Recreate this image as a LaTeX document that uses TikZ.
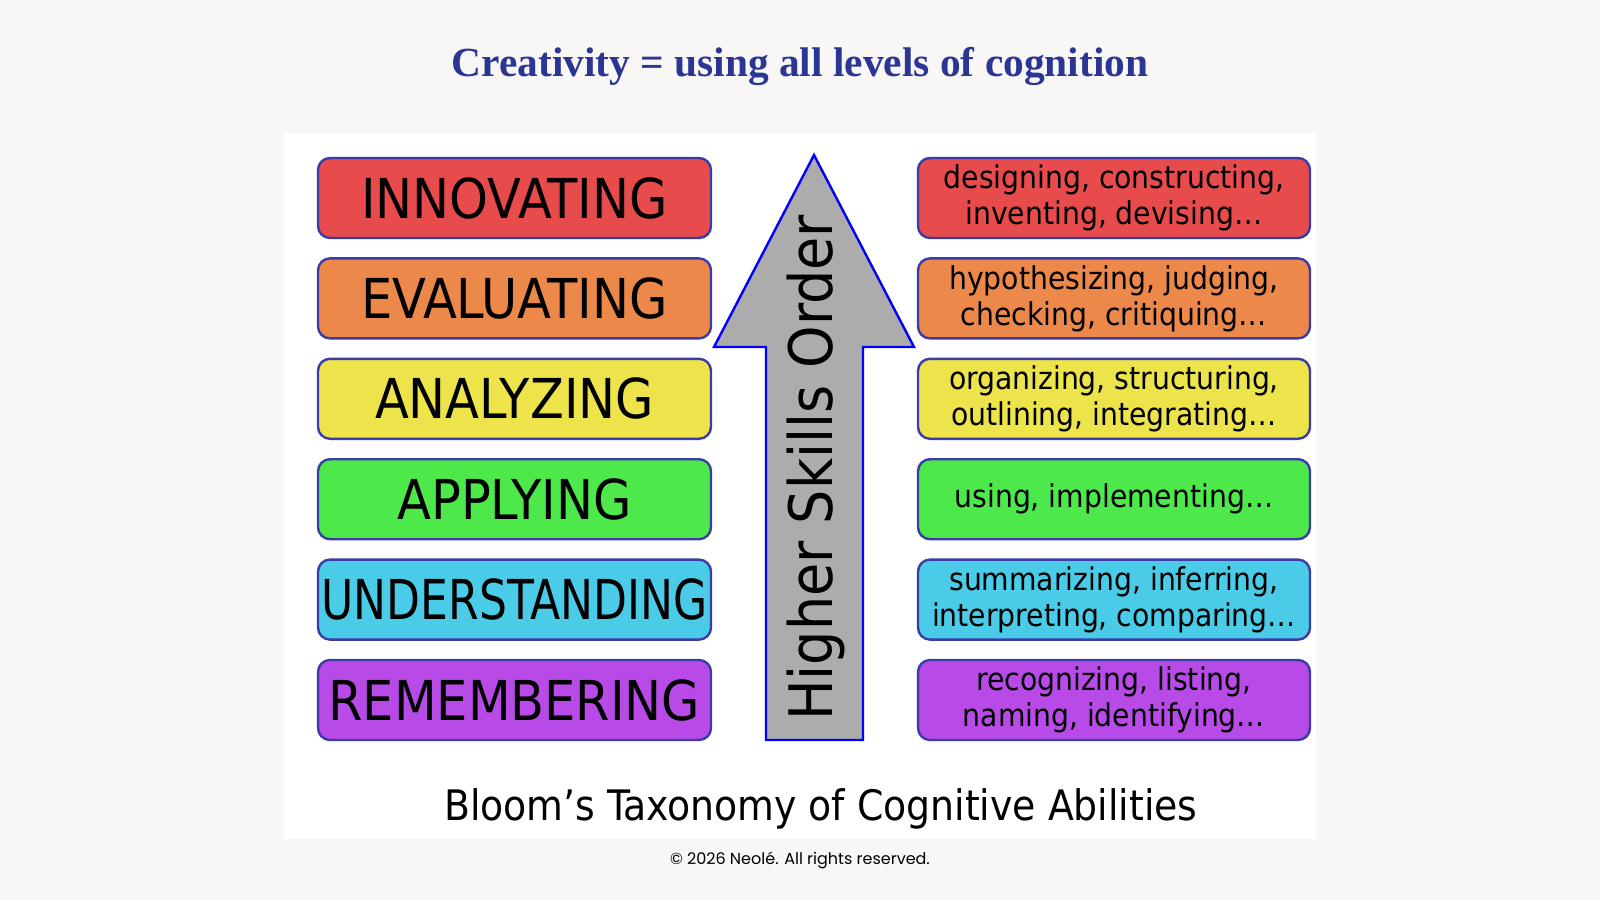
\documentclass[tikz,border=0pt]{standalone}
\usepackage{fontspec}
\setmainfont{DejaVu Sans Condensed}
\newfontfamily\titlefont{Liberation Serif}
\newfontfamily\copyfont{Poppins}
\definecolor{bg}{HTML}{F8F7F5}
\definecolor{ttl}{HTML}{2B3593}
\definecolor{bord}{HTML}{3C3CA8}
\definecolor{cr}{HTML}{E84B4B}
\definecolor{co}{HTML}{EC884A}
\definecolor{cy}{HTML}{ECE44A}
\definecolor{cg}{HTML}{4DE84A}
\definecolor{cc}{HTML}{4ACCE8}
\definecolor{cp}{HTML}{B84AE8}
\tikzset{
 lvl/.style={draw=bord,line width=1.2pt,rounded corners=6pt,minimum width=196.5pt,minimum height=40pt,font=\fontsize{27.5}{30}\selectfont,inner sep=0pt},
 verb/.style={draw=bord,line width=1.2pt,rounded corners=6pt,minimum width=196pt,minimum height=40pt,font=\fontsize{15.7}{18}\selectfont,align=center,inner sep=0pt}
}
\begin{document}
\begin{tikzpicture}[x=0.5pt,y=-0.5pt]
\fill[bg] (0,0) rectangle (1600,900);
\useasboundingbox (0,0) rectangle (1600,900);
\node[font=\titlefont\bfseries\fontsize{20.7}{24}\selectfont,text=ttl] (title) at (800,66) {Creativity = using all levels of cognition};
\fill[white] (284,133) rectangle (1316,839);
\foreach \n/\t/\c/\v [count=\i from 0] in {
 a/INNOVATING/cr/{designing, constructing,\\inventing, devising\dots},
 b/EVALUATING/co/{hypothesizing, judging,\\checking, critiquing\dots},
 c/ANALYZING/cy/{organizing, structuring,\\outlining, integrating\dots},
 d/APPLYING/cg/{using, implementing\dots},
 e/{\scalebox{0.89}[1]{UNDERSTANDING}}/cc/{summarizing, inferring,\\interpreting, comparing\dots},
 f/REMEMBERING/cp/{recognizing, listing,\\naming, identifying\dots}}{
 \node[lvl,fill=\c] (l\n) at (514.5,198+100.4*\i) {\t};
 \node[verb,fill=\c] (r\n) at (1114,198+100.4*\i) {\v};
}
\draw[draw=blue,line width=1.2pt,fill=gray!65] (814,155) -- (914,347) -- (863,347) -- (863,740) -- (766,740) -- (766,347) -- (714,347) -- cycle;
\node[rotate=90,font=\fontsize{30}{32}\selectfont] (arr) at (816,468) {Higher Skills Order};
\node[font=\fontsize{21}{24}\selectfont] (cap) at (821,809) {Bloom’s Taxonomy of Cognitive Abilities};
\node[font=\copyfont\fontsize{8}{10}\selectfont] (copy) at (800,860) {© 2026 Neolé. All rights reserved.};
\end{tikzpicture}
\end{document}
